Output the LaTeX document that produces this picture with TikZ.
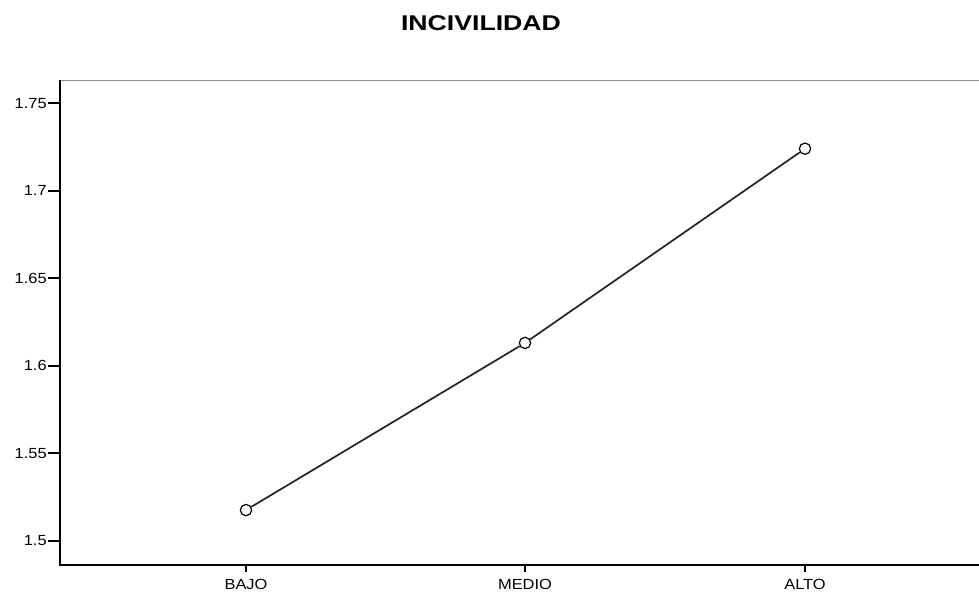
\documentclass[tikz,border=0pt]{standalone}
\usepackage{fontspec}
\setmainfont{Liberation Sans}
\usepackage{tikz}
\usetikzlibrary{positioning}

\tikzset{
  ticklabel/.style={font=\fontsize{11}{12}\selectfont, xscale=1.12, transform shape, inner sep=0pt},
  meanmark/.style={circle, draw, line width=0.9pt, minimum size=8.5pt, inner sep=0pt},
  meanline/.style={line width=1.3pt, black!85}
}

\begin{document}
\begin{tikzpicture}[x=0.75pt, y=-0.75pt]
  \useasboundingbox (0,0) rectangle (979,592);

  % Título
  \node[font=\fontsize{16}{18}\selectfont\bfseries, xscale=1.25, transform shape] (titulo) at (481,23) {INCIVILIDAD};

  % Ejes
  \draw[line width=1.2pt, black!45] (60,80.5) -- (979,80.5);
  \draw[line width=1.5pt] (60,80) -- (60,564.5) -- (979,564.5);

  % Marcas del eje vertical
  \foreach \v/\txt in {0/1.5, 1/1.55, 2/1.6, 3/1.65, 4/1.7, 5/1.75} {
    \draw[line width=1.2pt] (48,{540.7-87.5*\v}) -- (60,{540.7-87.5*\v});
    \node[ticklabel, anchor=east] at (47,{540.7-87.5*\v}) {\txt};
  }

  % Categorías
  \foreach \x/\cat/\val in {246/bajo/1.5175, 525/medio/1.613, 805/alto/1.724} {
    \draw[line width=1.2pt] (\x,564.5) -- (\x,572);
    \node[meanmark] (\cat) at (\x,{540.7-(\val-1.5)*1750}) {};
  }
  \node[ticklabel, anchor=base] (lbajo) at (246,589) {BAJO};
  \node[ticklabel, anchor=base] (lmedio) at (525,589) {MEDIO};
  \node[ticklabel, anchor=base] (lalto) at (805,589) {ALTO};

  % Línea de medias
  \draw[meanline] (bajo) -- (medio) -- (alto);

\end{tikzpicture}
\end{document}
